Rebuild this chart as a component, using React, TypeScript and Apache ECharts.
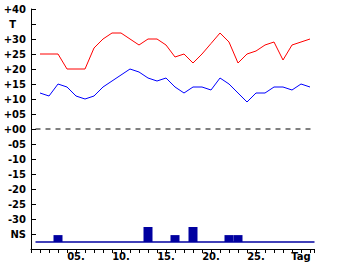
import React, { useEffect, useRef } from "react";
import * as echarts from "echarts";

const days = Array.from({ length: 31 }, (_, i) => i + 1);
const maxTemp = [25, 25, 25, 20, 20, 20, 27, 30, 32, 32, 30, 28, 30, 30, 28, 24, 25, 22, 25, 28.5, 32, 29, 22, 25, 26, 28, 29, 23, 28, 29, 30];
const minTemp = [12, 11, 15, 14, 11, 10, 11, 14, 16, 18, 20, 19, 17, 16, 17, 14, 12, 14, 14, 13, 17, 15, 12, 9, 12, 12, 14, 14, 13, 15, 14];
const precipDays = [3, 13, 16, 18, 22, 23];
const precipValues = [2.3, 5, 2.3, 5, 2.3, 2.3];
const xLabelDays = [5, 10, 15, 20, 25, 30];
const xLabelTexts = ["05.", "10.", "15.", "20.", "25.", "Tag"];
const yLabelValues = [40, 35, 30, 25, 20, 15, 10, 5, 0, -5, -10, -15, -20, -25, -30, -35];
const yLabelTexts = ["+40", "T\u2002\u2002", "+30", "+25", "+20", "+15", "+10", "+05", "+00", "-05", "-10", "-15", "-20", "-25", "-30", "NS"];
const zeroLine = [[0.5, 0], [31.5, 0]];

const FONT = "DejaVu Sans";

export default function App() {
  const ref = useRef<HTMLDivElement>(null);
  useEffect(() => {
    document.body.style.margin = "0";
    const chart = echarts.init(ref.current!, null, { renderer: "svg" });
    const labelStyle = { fontFamily: FONT, fontSize: 10, fontWeight: "bold" as const, color: "#000" };
    chart.setOption({
      animation: false,
      backgroundColor: "#fff",
      grid: { left: 31, top: 9, right: 25.5, bottom: 16, containLabel: false },
      xAxis: {
        type: "value",
        min: 0,
        max: 31.5,
        interval: 1,
        axisLine: { show: true, onZero: false, lineStyle: { color: "#000", width: 1 } },
        axisTick: { show: true, inside: false, length: 4, lineStyle: { color: "#000" } },
        splitLine: { show: false },
        axisLabel: {
          ...labelStyle,
          margin: 2,
          formatter: (v: number) => {
            const i = xLabelDays.indexOf(v);
            return i >= 0 ? xLabelTexts[i] : "";
          },
        },
      },
      yAxis: [
        {
          type: "value",
          min: -40,
          max: 40,
          interval: 5,
          axisLine: { show: true, onZero: false, lineStyle: { color: "#000", width: 1 } },
          axisTick: { show: true, inside: true, length: 5, lineStyle: { color: "#000" } },
          splitLine: { show: false },
          axisLabel: {
            ...labelStyle,
            margin: 5,
            formatter: (v: number) => {
              const i = yLabelValues.indexOf(v);
              return i >= 0 ? yLabelTexts[i] : "";
            },
          },
        },
        {
          type: "value",
          show: false,
          min: -7 / 3,
          max: 233 / 3,
          splitLine: { show: false },
        },
      ],
      series: [
        {
          type: "line",
          data: zeroLine,
          showSymbol: false,
          symbol: "none",
          silent: true,
          clip: false,
          lineStyle: { color: "#000000", width: 1, type: [5, 5] },
        },
        {
          type: "line",
          data: days.map((d, i) => [d, maxTemp[i]]),
          showSymbol: false,
          symbol: "none",
          lineStyle: { color: "#ff0000", width: 1 },
        },
        {
          type: "line",
          data: days.map((d, i) => [d, minTemp[i]]),
          showSymbol: false,
          symbol: "none",
          lineStyle: { color: "#0000ff", width: 1 },
        },
        {
          type: "bar",
          yAxisIndex: 1,
          barWidth: 9,
          data: precipDays.map((d, i) => [d, precipValues[i]]),
          itemStyle: { color: "#0000a0" },
          markLine: {
            silent: true,
            symbol: ["none", "none"],
            label: { show: false },
            lineStyle: { color: "#0000a0", type: "solid", width: 1.5 },
            data: [[{ coord: [0.5, 0] }, { coord: [31.5, 0] }]],
          },
        },
      ],
    });
    return () => chart.dispose();
  }, []);
  return <div ref={ref} style={{ position: "absolute", left: 0, top: 0, width: 340, height: 265 }} />;
}
